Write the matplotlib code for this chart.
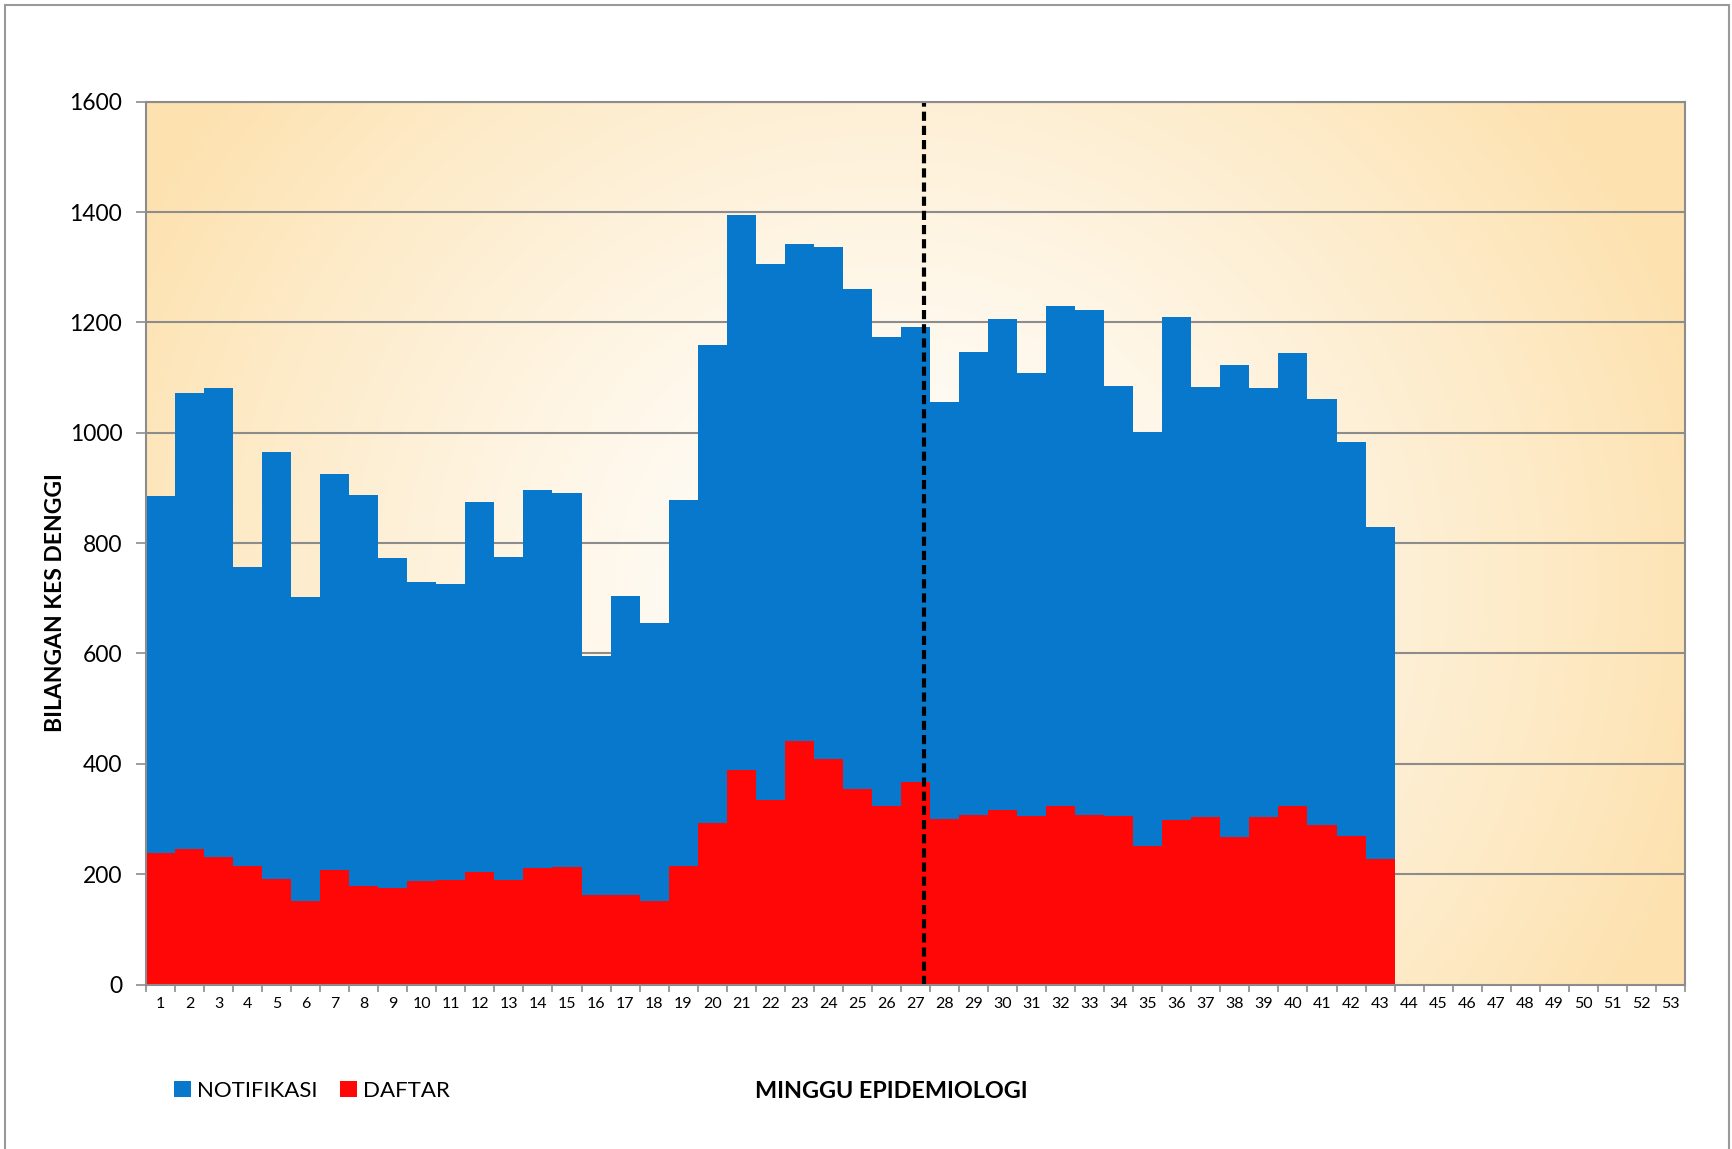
import numpy as np
import matplotlib
matplotlib.use("Agg")
import matplotlib.pyplot as plt
from matplotlib.patches import Patch, Rectangle

plt.rcParams['font.family'] = ['Lato', 'DejaVu Sans']

weeks = list(range(1, 54))
notifikasi = [886, 1072, 1081, 757, 965, 702, 925, 888, 773, 729,
              726, 875, 774, 897, 891, 595, 704, 656, 878, 1159,
              1394, 1305, 1343, 1336, 1261, 1173, 1191, 1055, 1146, 1207,
              1108, 1229, 1223, 1085, 1002, 1209, 1083, 1123, 1081, 1145,
              1062, 984, 829]
daftar = [238, 246, 231, 214, 191, 152, 208, 179, 175, 187,
          189, 204, 190, 211, 213, 163, 163, 152, 214, 293,
          389, 334, 441, 408, 355, 324, 368, 300, 308, 317,
          306, 323, 308, 306, 252, 299, 304, 268, 304, 323,
          289, 269, 228]
y_ticks = [0, 200, 400, 600, 800, 1000, 1200, 1400, 1600]
cutoff_week = 27.3

blue = '#0778CB'
red = '#FF0707'

fig = plt.figure(figsize=(17.33, 11.49), dpi=100)
ax = fig.add_axes([0.0842, 0.1431, 0.9723 - 0.0842, 0.9115 - 0.1431])

# radial gradient background
ny, nx = 300, 600
yy, xx = np.mgrid[0:ny, 0:nx]
cx, cy = nx * 0.48, ny * 0.55
r = np.sqrt(((xx - cx) / (nx * 0.55)) ** 2 + ((yy - cy) / (ny * 0.9)) ** 2)
t = np.clip(r, 0, 1) ** 1.3
c_in = np.array([1.0, 1.0, 1.0])
c_out = np.array([253, 226, 176]) / 255.0
img = c_in[None, None, :] * (1 - t[..., None]) + c_out[None, None, :] * t[..., None]
ax.imshow(img, extent=[0, 1, 0, 1], transform=ax.transAxes, aspect='auto',
          zorder=0, interpolation='bicubic')

ax.set_xlim(0.5, 53.5)
ax.set_ylim(0, 1600)

for yv in y_ticks[1:]:
    ax.axhline(yv, color='#8C8C8C', lw=1.5, zorder=1)

x = np.arange(1, len(notifikasi) + 1)
ax.bar(x, notifikasi, width=1.0, color=blue, zorder=2, linewidth=0)
ax.bar(x, daftar, width=1.0, color=red, zorder=3, linewidth=0)

ax.axvline(cutoff_week, color='black', lw=3, ls=(0, (2.2, 1.2)), zorder=5)

ax.set_yticks(y_ticks)
ax.set_yticklabels([str(v) for v in y_ticks], fontsize=16.5)
ax.set_xticks(weeks)
ax.set_xticklabels([str(w) for w in weeks], fontsize=11.5)
ax.set_xticks(np.arange(0.5, 54, 1), minor=True)
ax.tick_params(axis='x', which='major', length=0, pad=9)
ax.tick_params(axis='x', which='minor', length=5, color='#8C8C8C', width=1.2)
ax.tick_params(axis='y', which='major', length=7, color='#8C8C8C', width=1.2, pad=10)

for s in ax.spines.values():
    s.set_color('#8C8C8C')
    s.set_linewidth(1.5)
    s.set_zorder(6)

fig.text(0.032, 0.476, 'BILANGAN KES DENGGI', rotation=90, ha='center', va='center',
         fontsize=16.5, fontweight='bold')
fig.text(891 / 1733, 1 - 1091 / 1149, 'MINGGU EPIDEMIOLOGI', ha='center', va='center',
         fontsize=16.8, fontweight='bold')

handles = [Patch(facecolor=blue, label='NOTIFIKASI'), Patch(facecolor=red, label='DAFTAR')]
fig.legend(handles=handles, loc='center left', bbox_to_anchor=(165 / 1733, 1 - 1091 / 1149),
           ncol=2, frameon=False, fontsize=16, handlelength=0.75, handleheight=0.75,
           handletextpad=0.3, columnspacing=1.0, borderaxespad=0)

fig.patches.append(Rectangle((5.5 / 1733, -0.05), (1729 - 5.5) / 1733, 1.05 - 5 / 1149,
                             transform=fig.transFigure, fill=False, edgecolor='#999999',
                             lw=1.5))

fig.savefig('out.png', dpi=100)
